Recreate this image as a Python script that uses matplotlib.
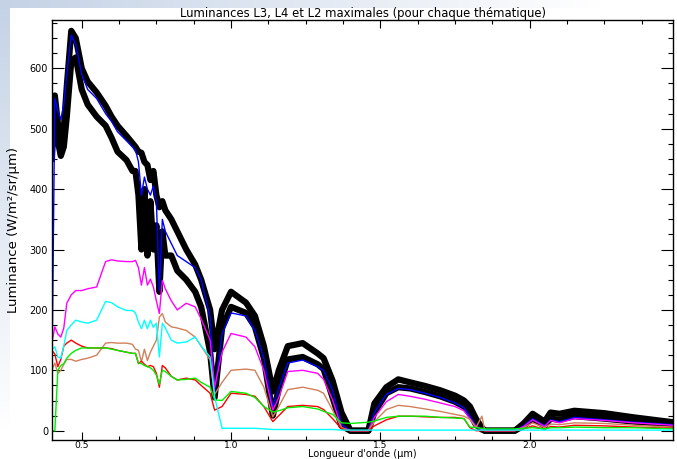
import numpy as np
import matplotlib
matplotlib.use('Agg')
import matplotlib.pyplot as plt
from matplotlib.ticker import MultipleLocator, FormatStrFormatter


### Spectra: maximal L3 / L4 / L2 luminances per thematic class ###

wavelength = [
    0.40, 0.41, 0.42, 0.43, 0.44, 0.45,
    0.465, 0.48, 0.50, 0.52, 0.55, 0.58,
    0.60, 0.62, 0.65, 0.67, 0.68, 0.69,
    0.70, 0.71, 0.72, 0.73, 0.74, 0.75,
    0.76, 0.77, 0.78, 0.80, 0.82, 0.85,
    0.88, 0.90, 0.93, 0.945, 0.97, 1.00,
    1.05, 1.08, 1.11, 1.14, 1.16, 1.19,
    1.24, 1.29, 1.31, 1.34, 1.37, 1.40,
    1.46, 1.48, 1.52, 1.56, 1.60, 1.65,
    1.70, 1.75, 1.78, 1.80, 1.82, 1.84,
    1.85, 1.95, 1.98, 2.01, 2.05, 2.07,
    2.10, 2.15, 2.25, 2.35, 2.48,
]

black_high = [
    470, 555, 510, 460, 500, 570,
    662, 650, 600, 578, 560, 538,
    520, 505, 488, 476, 470, 462,
    460, 445, 440, 415, 430, 390,
    370, 380, 365, 350, 330, 300,
    275, 250, 200, 135, 200, 230,
    212, 190, 140, 65, 100, 140,
    145, 128, 120, 83, 30, 0,
    0, 45, 72, 85, 80, 74,
    67, 58, 50, 40, 20, 5,
    0, 0, 12, 28, 15, 30,
    28, 33, 29, 22, 14,
]

black_low = [
    450, 540, 480, 455, 470, 520,
    612, 618, 565, 540, 520, 505,
    485, 462, 448, 430, 430, 390,
    300, 400, 290, 380, 300, 340,
    230, 330, 290, 290, 265, 250,
    230, 205, 130, 55, 170, 205,
    195, 172, 120, 25, 70, 118,
    122, 110, 102, 55, 8, 0,
    0, 30, 62, 72, 70, 64,
    57, 48, 40, 28, 10, 2,
    0, 0, 8, 20, 8, 20,
    18, 24, 20, 15, 10,
]

blue = [
    75, 550, 530, 515, 540, 590,
    655, 640, 590, 565, 550, 525,
    512, 495, 480, 470, 465, 445,
    390, 420, 400, 390, 405, 380,
    232, 350, 330, 310, 290, 280,
    270, 250, 188, 62, 160, 195,
    190, 166, 120, 40, 70, 112,
    117, 106, 100, 67, 10, 0,
    0, 30, 60, 70, 68, 62,
    55, 46, 38, 24, 8, 2,
    0, 0, 8, 20, 8, 18,
    15, 22, 18, 14, 10,
]

magenta = [
    145, 172, 160, 155, 170, 211,
    225, 232, 232, 235, 238, 280,
    283, 281, 280, 280, 282, 270,
    241, 270, 241, 251, 238, 215,
    194, 249, 235, 215, 200, 211,
    205, 185, 150, 72, 130, 161,
    155, 139, 100, 34, 55, 98,
    100, 95, 85, 51, 5, 0,
    0, 22, 48, 60, 57, 52,
    46, 40, 33, 20, 7, 2,
    0, 0, 7, 18, 7, 17,
    13, 20, 17, 13, 9,
]

cyan = [
    135, 139, 122, 120, 140, 166,
    175, 183, 180, 178, 183, 214,
    212, 205, 199, 199, 195, 180,
    169, 183, 169, 183, 171, 178,
    122, 178, 170, 150, 145, 147,
    155, 140, 122, 56, 4, 4,
    4, 4, 3, 2, 2, 2,
    2, 2, 2, 2, 1, 1,
    1, 1, 1, 1, 1, 1,
    1, 1, 1, 1, 1, 1,
    1, 1, 1, 1, 1, 1,
    1, 1, 1, 1, 1,
]

sienna = [
    100, 112, 95, 100, 110, 118,
    118, 115, 118, 120, 125, 145,
    146, 145, 145, 143, 135, 133,
    114, 135, 116, 130, 140, 150,
    188, 194, 180, 172, 170, 166,
    155, 140, 117, 60, 80, 100,
    102, 100, 72, 23, 40, 68,
    72, 67, 62, 34, 5, 0,
    0, 15, 35, 42, 40, 36,
    32, 27, 24, 19, 5, 24,
    0, 0, 5, 13, 5, 11,
    10, 13, 12, 9, 6,
]

red = [
    133, 127, 106, 118, 140, 145,
    150, 145, 140, 137, 137, 137,
    136, 133, 130, 128, 128, 111,
    115, 110, 106, 108, 106, 95,
    72, 108, 104, 90, 84, 87,
    84, 75, 62, 34, 40, 62,
    60, 57, 40, 15, 25, 40,
    42, 40, 35, 20, 3, 0,
    0, 8, 18, 24, 24, 23,
    22, 22, 20, 5, 0, 0,
    0, 0, 3, 8, 2, 7,
    6, 9, 8, 6, 4,
]

green = [
    0, 0, 100, 108, 111, 120,
    128, 133, 137, 137, 137, 137,
    135, 133, 130, 128, 128, 112,
    111, 108, 106, 104, 100, 92,
    77, 100, 98, 90, 84, 85,
    87, 80, 72, 51, 50, 65,
    62, 55, 40, 31, 33, 38,
    40, 36, 32, 27, 13, 12,
    14, 16, 22, 24, 24, 24,
    22, 21, 20, 6, 5, 4,
    3, 3, 4, 5, 3, 5,
    5, 6, 5, 5, 3,
]

thin_series = [
    (blue, '#0000ff'),
    (magenta, '#ff00ff'),
    (sienna, '#d0805a'),
    (red, '#ff0000'),
    (green, '#00ee00'),
    (cyan, '#00ffff'),
]


def draw_background(fig):
    """Soft blue corner behind the white page."""
    h, w = 459, 677
    yy, xx = np.mgrid[0:h, 0:w]
    t = np.clip(1 - np.sqrt((xx / 600.0) ** 2 + (yy / 430.0) ** 2), 0, 1)
    corner = np.array([196, 210, 230]) / 255.0
    img = np.ones((h, w, 3)) * (1 - t[..., None]) + corner * t[..., None]
    img[8:, 10:] = 1.0
    bg = fig.add_axes([0, 0, 1, 1], zorder=-10)
    bg.imshow(img, aspect='auto', interpolation='bilinear')
    bg.axis('off')


def plot_luminances():
    fig = plt.figure(figsize=(6.77, 4.59), dpi=100)
    draw_background(fig)

    ax = fig.add_axes([52.3 / 677, 1 - 440 / 459, 620.4 / 677, 420 / 459])
    ax.set_facecolor('white')

    ax.plot(wavelength, black_high, color='black', linewidth=4.5)
    ax.plot(wavelength, black_low, color='black', linewidth=4.5)
    for values, color in thin_series:
        ax.plot(wavelength, values, color=color, linewidth=1.0)

    ax.set_xlim(0.4015, 2.479)
    ax.set_ylim(-15.4, 680)

    ax.xaxis.set_major_locator(MultipleLocator(0.5))
    ax.xaxis.set_minor_locator(MultipleLocator(0.125))
    ax.yaxis.set_major_locator(MultipleLocator(100))
    ax.yaxis.set_minor_locator(MultipleLocator(25))
    ax.xaxis.set_major_formatter(FormatStrFormatter('%.1f'))

    ax.tick_params(which='both', direction='in', top=True, right=True,
                   width=0.8, labelsize=7, color='black')
    ax.tick_params(axis='x', which='major', length=5.8, pad=0.8, labelsize=6.6)
    ax.tick_params(axis='x', which='minor', length=2.9)
    ax.tick_params(axis='y', which='major', length=8.6, pad=3)
    ax.tick_params(axis='y', which='minor', length=3.4)
    for spine in ax.spines.values():
        spine.set_linewidth(1.0)

    ax.set_title('Luminances L3, L4 et L2 maximales (pour chaque thématique)',
                 fontsize=8.4, pad=2)
    ax.set_xlabel("Longueur d'onde (µm)", fontsize=7)
    ax.set_ylabel('Luminance (W/m²/sr/µm)', fontsize=9.5)
    ax.xaxis.label.set_va('bottom')
    ax.yaxis.label.set_va('center')
    ax.xaxis.set_label_coords(0.5, -0.0464)
    ax.yaxis.set_label_coords(-0.062, 0.5)

    fig.savefig('out.png', dpi=100)
    return fig


plot_luminances()
